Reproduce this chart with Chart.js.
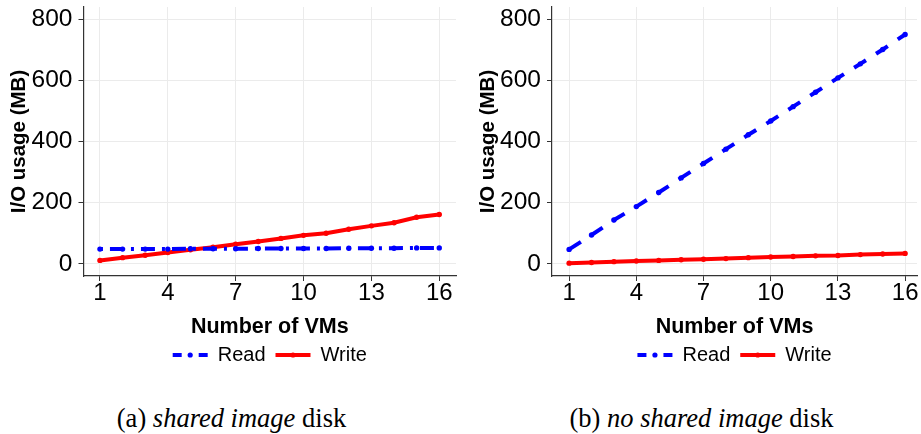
<!DOCTYPE html>
<html><head><meta charset="utf-8">
<script src="https://cdn.jsdelivr.net/npm/chart.js@4/dist/chart.umd.min.js"></script>
<style>
html,body{margin:0;padding:0;background:#fff;width:921px;height:434px;overflow:hidden;}
.c{position:absolute;top:0;}
.cap{position:absolute;top:405px;font-family:'Liberation Serif','Times New Roman',serif;font-size:26.5px;line-height:26px;color:#000;white-space:nowrap;transform:translateX(-50%);}
</style></head><body>
<canvas id="a" class="c" width="460" height="375" style="left:0"></canvas>
<canvas id="b" class="c" width="461" height="375" style="left:460px"></canvas>
<div class="cap" style="left:231.5px">(a) <i>shared image</i> disk</div>
<div class="cap" style="left:701.5px">(b) <i>no shared image</i> disk</div>
<script>
const vms = [1,2,3,4,5,6,7,8,9,10,11,12,13,14,15,16];
const xTicks = [1,4,7,10,13,16];
const yTicks = [0,200,400,600,800];
const seriesNames = ['Read','Write'];
const sharedRead = [48,48,48,48,49,49,49,50,50,50,50,51,51,51,52,52];
const sharedWrite = [11,20,28,37,46,54,64,73,83,93,100,113,124,134,152,161];
const noSharedRead = [47,94,143,187,233,281,328,375,422,467,514,561,608,654,701,750];
const noSharedWrite = [2,4,7,9,11,13,15,17,20,22,24,26,27,30,32,34];

const FONT = "'Liberation Sans', Arial, sans-serif";
const BLUE = '#0000ff', RED = '#ff0000';

const legendDot = {
  id: 'legendDot',
  afterDraw(chart) {
    const lg = chart.legend;
    if (!lg || !lg.legendHitBoxes) return;
    const ctx = chart.ctx;
    const bw = chart.options.plugins.legend.labels.pointStyleWidth;
    lg.legendHitBoxes.forEach((hb, i) => {
      const item = lg.legendItems[i];
      ctx.save();
      ctx.fillStyle = item.strokeStyle;
      ctx.beginPath();
      ctx.arc(hb.left + bw / 2, hb.top + hb.height / 2, 2.6, 0, Math.PI * 2);
      ctx.fill();
      ctx.restore();
    });
  }
};

function makeChart(id, read, write, readDash, yAxisWidth, titlePad, xMin, xMax, padRight) {
  const points = (arr) => vms.map((v, i) => ({x: v, y: arr[i]}));
  return new Chart(document.getElementById(id), {
    type: 'line',
    data: {
      datasets: [
        {label: seriesNames[0], data: points(read), borderColor: BLUE, backgroundColor: BLUE,
         borderWidth: 4, borderDash: readDash, borderCapStyle: 'butt', pointRadius: 2.7,
         pointBorderWidth: 0, pointBackgroundColor: BLUE, tension: 0},
        {label: seriesNames[1], data: points(write), borderColor: RED, backgroundColor: RED,
         borderWidth: 4, pointRadius: 2.7, pointBorderWidth: 0, pointBackgroundColor: RED, tension: 0}
      ]
    },
    options: {
      responsive: false, animation: false, devicePixelRatio: 1,
      layout: {padding: {top: 7, right: padRight, left: 0, bottom: 0}},
      plugins: {
        tooltip: {enabled: false},
        legend: {
          position: 'bottom', fullSize: false,
          labels: {
            usePointStyle: true, pointStyleWidth: 35, padding: 10,
            color: '#000', font: {family: FONT, size: 20},
            generateLabels(chart) {
              const items = Chart.defaults.plugins.legend.labels.generateLabels(chart);
              items.forEach((it, i) => {
                it.pointStyle = 'line';
                it.lineWidth = 4;
                it.lineDash = i === 0 ? [9, 17] : [];
                it.fillStyle = it.strokeStyle;
              });
              return items;
            }
          }
        }
      },
      scales: {
        x: {
          type: 'linear', min: xMin, max: xMax,
          afterBuildTicks: s => { s.ticks = xTicks.map(v => ({value: v})); },
          afterFit: s => { s.height = 59; s.paddingLeft = 0; s.paddingRight = 0; },
          grid: {color: '#ebebeb', lineWidth: 1, tickColor: '#333', tickLength: 5},
          border: {color: '#333', width: 1.2},
          ticks: {color: '#000', font: {family: FONT, size: 24, lineHeight: 1.05}, padding: 0, maxRotation: 0, autoSkip: false},
          title: {display: true, text: 'Number of VMs', color: '#000',
                  font: {family: FONT, size: 21.5, weight: 'bold', lineHeight: 0.7}, padding: {top: 0, bottom: 0}}
        },
        y: {
          type: 'linear', min: -40, max: 840,
          afterBuildTicks: s => { s.ticks = yTicks.map(v => ({value: v})); },
          afterFit: s => { s.width = yAxisWidth; s.paddingTop = 0; s.paddingBottom = 0; },
          grid: {color: '#ebebeb', lineWidth: 1, tickColor: '#333', tickLength: 5},
          border: {color: '#333', width: 1.2},
          ticks: {color: '#000', font: {family: FONT, size: 24.5}, padding: 6},
          title: {display: true, text: 'I/O usage (MB)', color: '#000',
                  font: {family: FONT, size: 20.5, weight: 'bold', lineHeight: 1.2}, padding: {top: titlePad, bottom: 0}}
        }
      }
    },
    plugins: [legendDot]
  });
}

makeChart('a', sharedRead, sharedWrite, [3, 7, 14, 7], 83.5, 7.5, 0.273, 16.74, 3);
makeChart('b', noSharedRead, noSharedWrite, [14, 12], 92, 16.5, 0.236, 16.53, 0);
</script>
</body></html>
